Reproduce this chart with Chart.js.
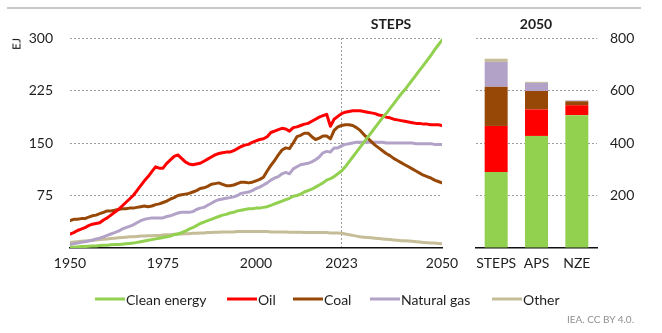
<!DOCTYPE html>
<html>
<head>
<meta charset="utf-8">
<script src="https://cdn.jsdelivr.net/npm/chart.js@4.4.1/dist/chart.umd.min.js"></script>
<style>
  html, body { margin: 0; padding: 0; background: #fff; }
  #wrap { position: relative; width: 662px; height: 333px; overflow: hidden;
          font-family: Lato, "Open Sans", sans-serif; color: #1e1e1e; }
  #wrap canvas { position: absolute; left: 0; top: 0; }
  .rule { position: absolute; left: 7px; top: 7px; width: 634px; height: 2px; background: #c9c9c9; }
  .title { position: absolute; font-weight: bold; font-size: 14px; transform: translate(-50%, -50%); white-space: nowrap; }
  .unit { position: absolute; left: 16px; top: 44px; font-size: 12px; transform: translate(-50%, -50%) rotate(-90deg); }
  .legend-item { position: absolute; top: 299px; display: flex; align-items: center; transform: translateY(-50%);
                 font-size: 14px; white-space: nowrap; }
  .legend-item i { display: inline-block; width: 30px; height: 3px; margin-right: 1px; }
  .credit { position: absolute; left: 567px; top: 313px; font-size: 10px; color: #8f8f8f; white-space: nowrap; }
</style>
</head>
<body>
<div id="wrap">
  <div class="rule"></div>
  <canvas id="lines" width="662" height="333"></canvas>
  <canvas id="bars" width="662" height="333"></canvas>
  <div class="unit">EJ</div>
  <div class="title" style="left:391px; top:23px;">STEPS</div>
  <div class="title" style="left:536px; top:23px;">2050</div>
  <div id="legend"></div>
  <div class="credit">IEA. CC BY 4.0.</div>
</div>
<script>
// Annual energy supply by source, 1950-2050 (EJ)
const firstYear = 1950;
const lastYear = 2050;
const years = Array.from({ length: lastYear - firstYear + 1 }, (_, i) => firstYear + i);
const yearTicks = [1950, 1975, 2000, 2023, 2050];

const cleanEnergy = [
  1, 1, 1.5, 2, 2, 2.5, 3, 3, 3.5, 4,
  4, 4.5, 5, 5, 5.5, 6, 6.5, 7, 8, 9,
  10, 11, 12, 13, 14, 15, 16, 17, 19, 20,
  22, 24, 27, 29, 32, 35, 37, 39, 41, 43,
  45, 47, 48, 50, 51, 53, 54, 55, 56, 56,
  57, 57, 58, 59, 61, 63, 65, 67, 69, 71,
  74, 75, 77, 80, 82, 84, 87, 90, 93, 97,
  99, 102, 106, 110, 116, 123, 130, 137, 144, 151,
  158, 165, 172, 179, 186, 192, 199, 206, 213, 220,
  226, 233, 240, 247, 254, 261, 268, 275, 283, 290,
  297
];
const oil = [
  20, 22, 25, 27, 29, 32, 34, 35, 36, 40,
  43, 47, 51, 55, 60, 65, 70, 75, 82, 89,
  96, 102, 109, 116, 114, 114, 121, 126, 131, 133,
  128, 123, 120, 119, 120, 121, 124, 127, 130, 133,
  135, 136, 137, 137, 139, 142, 145, 147, 148, 151,
  153, 155, 156, 159, 165, 167, 169, 171, 170, 167,
  172, 173, 175, 177, 178, 181, 184, 187, 189, 191,
  174, 184, 188, 192, 194, 195, 196, 196, 196, 195,
  194, 193, 192, 190, 189, 187, 186, 184, 183, 182,
  181, 180, 179, 178, 178, 177, 177, 176, 176, 176,
  175
];
const coal = [
  39, 41, 41, 42, 42, 44, 46, 47, 49, 51,
  53, 53, 54, 55, 56, 56, 57, 57, 58, 59,
  60, 59, 60, 62, 63, 65, 67, 70, 72, 75,
  76, 77, 78, 80, 82, 85, 86, 88, 91, 92,
  93, 91, 89, 89, 90, 92, 94, 94, 93, 94,
  96, 98, 101, 110, 118, 125, 133, 140, 143, 142,
  150, 159, 161, 164, 164, 159, 155, 157, 160, 160,
  156, 168, 173, 175, 176, 176, 175, 172, 168, 162,
  157, 152, 147, 143, 139, 135, 132, 128, 125, 122,
  119, 116, 113, 110, 107, 104, 102, 100, 97, 95,
  93
];
const naturalGas = [
  5, 6, 7, 8, 9, 10, 11, 13, 14, 16,
  18, 20, 22, 24, 27, 29, 31, 33, 36, 39,
  41, 42, 43, 43, 43, 43, 45, 46, 48, 50,
  51, 51, 51, 52, 55, 57, 58, 61, 64, 67,
  69, 70, 71, 72, 73, 75, 78, 79, 80, 82,
  85, 87, 90, 93, 97, 100, 102, 106, 108, 106,
  113, 116, 119, 120, 121, 123, 126, 130, 136, 138,
  137, 143, 143, 146, 148, 149, 150, 151, 151, 151,
  151, 151, 151, 151, 151, 150, 150, 150, 150, 150,
  150, 150, 150, 149, 149, 149, 149, 149, 148, 148,
  148
];
const other = [
  8, 8.5, 9, 9.5, 10, 10.5, 11, 11.5, 12, 12.5,
  13, 13.5, 14, 14.5, 15, 15.5, 16, 16, 16.5, 17,
  17, 17.5, 17.5, 18, 18, 18.5, 19, 19, 19.5, 20,
  20, 20.5, 20.5, 21, 21, 21.5, 21.5, 22, 22, 22.5,
  22.5, 23, 23, 23, 23, 23.5, 23.5, 23.5, 23.5, 23.5,
  23.5, 23.5, 23.5, 23.5, 23, 23, 23, 23, 23, 22.5,
  22.5, 22.5, 22.5, 22, 22, 22, 22, 22, 22, 22,
  21.5, 21.5, 21.5, 21, 20, 19, 18, 17, 16, 15.5,
  15, 14.5, 14, 13.5, 13, 12.5, 12, 11.5, 11, 10.5,
  10.5, 10, 9.5, 9, 8.5, 8, 7.5, 7, 7, 6.5,
  6
];

// 2050 supply by scenario (stacked bars)
const scenarios = ['STEPS', 'APS', 'NZE'];
const barClean = [290, 427, 506];
const barOil = [175, 101, 38];
const barCoal = [149, 70, 15];
const barGas = [95, 31, 3];
const barOther = [12, 4, 1];

const sources = [
  { label: 'Clean energy', color: '#92D050', line: cleanEnergy, bar: barClean },
  { label: 'Oil',          color: '#FF0000', line: oil,         bar: barOil },
  { label: 'Coal',         color: '#974806', line: coal,        bar: barCoal },
  { label: 'Natural gas',  color: '#B3A2C7', line: naturalGas,  bar: barGas },
  { label: 'Other',        color: '#C4BD97', line: other,       bar: barOther }
];

const FONT = 'Lato, "Open Sans", sans-serif';
const TEXT = '#1e1e1e';
const GRID = '#9c9c9c';
const HIDDEN = 'rgba(0,0,0,0)';

// Shared plot frame: plot areas run from y=38 (top) to y=248 (baseline)
const TOP = 38, XAXIS_H = 30, BOTTOM_PAD = 333 - 248 - XAXIS_H;

new Chart(document.getElementById('lines'), {
  type: 'line',
  data: {
    datasets: sources.map(s => ({
      label: s.label,
      data: years.map((yr, i) => ({ x: yr, y: s.line[i] })),
      borderColor: s.color,
      backgroundColor: s.color,
      borderWidth: 3,
      pointRadius: 0,
      tension: 0,
      borderCapStyle: 'round',
      borderJoinStyle: 'round',
      fill: false
    }))
  },
  options: {
    responsive: false,
    animation: false,
    events: [],
    layout: { padding: { left: 0, top: TOP, right: 662 - 442, bottom: BOTTOM_PAD } },
    plugins: { legend: { display: false }, tooltip: { enabled: false } },
    scales: {
      x: {
        type: 'linear', min: firstYear, max: lastYear,
        afterBuildTicks: s => { s.ticks = yearTicks.map(v => ({ value: v })); },
        afterFit: s => { s.height = XAXIS_H; },
        grid: { drawTicks: false, lineWidth: 1,
                color: c => (c.tick && c.tick.value === 2023) ? GRID : HIDDEN },
        border: { display: true, color: '#111', width: 1.5, dash: [2, 2] },
        ticks: { padding: 7, color: TEXT, font: { family: FONT, size: 14 },
                 maxRotation: 0, autoSkip: false, callback: v => String(v) }
      },
      y: {
        min: 0, max: 300,
        afterFit: s => { s.width = 70; },
        grid: { drawTicks: false, lineWidth: 1,
                color: c => (c.tick && c.tick.value === 0) ? HIDDEN : GRID },
        border: { display: false, dash: [2, 2] },
        ticks: { stepSize: 75, padding: 17, color: TEXT, font: { family: FONT, size: 14 },
                 callback: v => v === 0 ? '' : String(v) }
      }
    }
  }
});

new Chart(document.getElementById('bars'), {
  type: 'bar',
  data: {
    labels: scenarios,
    datasets: sources.map(s => ({
      label: s.label,
      data: s.bar,
      backgroundColor: s.color,
      borderWidth: 0,
      categoryPercentage: 1,
      barPercentage: 0.57
    }))
  },
  options: {
    responsive: false,
    animation: false,
    events: [],
    layout: { padding: { left: 476, top: TOP, right: 0, bottom: BOTTOM_PAD } },
    plugins: { legend: { display: false }, tooltip: { enabled: false } },
    scales: {
      x: {
        stacked: true,
        afterFit: s => { s.height = XAXIS_H; },
        grid: { display: false, drawTicks: false },
        border: { display: true, color: '#111', width: 1.5 },
        ticks: { padding: 7, color: TEXT, font: { family: FONT, size: 14 },
                 autoSkip: false, maxRotation: 0, minRotation: 0 }
      },
      y: {
        stacked: true, position: 'right', min: 0, max: 800,
        afterFit: s => { s.width = 662 - 597; },
        grid: { drawTicks: false, lineWidth: 1,
                color: c => (c.tick && c.tick.value === 0) ? HIDDEN : GRID },
        border: { display: false, dash: [2, 2] },
        ticks: { stepSize: 200, padding: 13, color: TEXT, font: { family: FONT, size: 14 },
                 callback: v => v === 0 ? '' : String(v) }
      }
    }
  }
});

// Legend beneath the charts
const legendLeft = [95, 227, 293, 370, 492];
const legend = document.getElementById('legend');
sources.forEach((s, i) => {
  const item = document.createElement('div');
  item.className = 'legend-item';
  item.style.left = legendLeft[i] + 'px';
  const swatch = document.createElement('i');
  swatch.style.background = s.color;
  item.appendChild(swatch);
  item.appendChild(document.createTextNode(s.label));
  legend.appendChild(item);
});
</script>
</body>
</html>
